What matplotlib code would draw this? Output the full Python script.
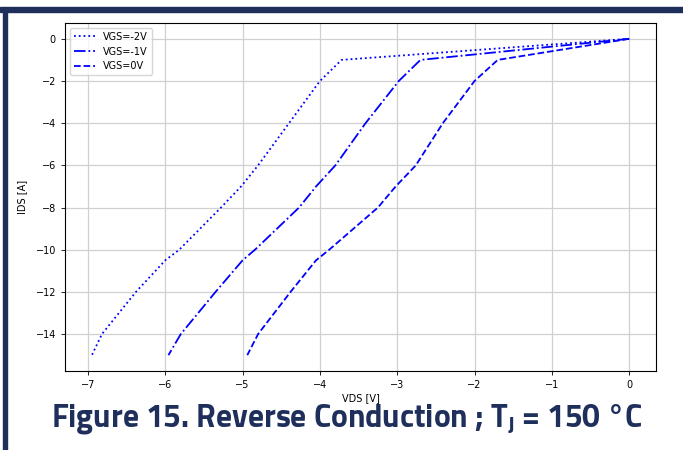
import matplotlib
matplotlib.use('Agg')
import matplotlib.pyplot as plt
from matplotlib.patches import Rectangle

### Datos ###
ids = [0, -1, -2, -4, -6, -7, -8, -10, -10.5, -12, -14, -15]
vds_m2 = [0, -3.72, -4.0, -4.4, -4.8, -5.02, -5.28, -5.82, -6.0, -6.38, -6.82, -6.95]
vds_m1 = [0, -2.70, -2.98, -3.41, -3.80, -4.05, -4.27, -4.84, -5.0, -5.35, -5.80, -5.96]
vds_0 = [0, -1.70, -2.0, -2.41, -2.76, -3.02, -3.25, -3.88, -4.05, -4.38, -4.80, -4.94]
etiquetas = ['VGS=-2V', 'VGS=-1V', 'VGS=0V']
titulo = 'Figure 15. Reverse Conduction ; T$_\\mathrm{J}$ = 150 °C'

plt.rcParams['font.family'] = ['DejaVu Sans']
plt.rcParams['mathtext.fontset'] = 'custom'
plt.rcParams['mathtext.rm'] = 'Titillium Web:bold'

azul = '#1f2f5c'

fig = plt.figure(figsize=(6.83, 4.5), dpi=100)
ax = fig.add_axes([0.0952, 0.1756, 0.8653, 0.7733])

ax.plot(vds_m2, ids, ':', color='b', lw=1.3, label=etiquetas[0])
ax.plot(vds_m1, ids, '-.', color='b', lw=1.3, label=etiquetas[1])
ax.plot(vds_0, ids, '--', color='b', lw=1.3, label=etiquetas[2])

ax.grid(True, color='#d0d0d0', lw=0.9)
ax.tick_params(labelsize=7, length=3, width=0.6)
ax.set_xlabel('VDS [V]', size=7, labelpad=2)
ax.set_ylabel('IDS [A]', size=7, labelpad=6)
ax.legend(loc='upper left', fontsize=7, handlelength=2.2)
for s in ax.spines.values():
    s.set_linewidth(0.8)

### Marco y titulo ###
fig.patches.append(Rectangle((0, 1 - 12/450), 1, 5/450, transform=fig.transFigure,
                             color=azul, zorder=0))
fig.patches.append(Rectangle((2.5/683, 0), 4.5/683, 1 - 8/450, transform=fig.transFigure,
                             color=azul, zorder=0))
fig.text(347/683, 1 - 427/450, titulo, ha='center', va='baseline', color=azul, size=22.8,
         family=['Titillium Web', 'DejaVu Sans'], weight='bold')

plt.savefig('out.png', dpi=100)
